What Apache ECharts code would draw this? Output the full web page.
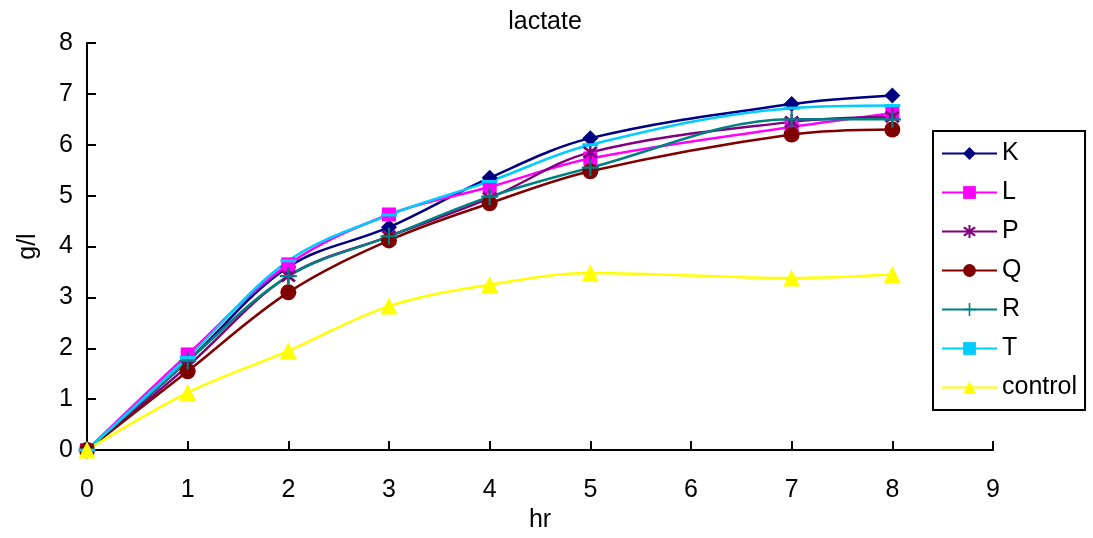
<!DOCTYPE html>
<html>
<head>
<meta charset="utf-8">
<style>
  html, body { margin: 0; padding: 0; background: #fff; }
  #chart { width: 1093px; height: 538px; }
</style>
<script src="https://cdn.jsdelivr.net/npm/echarts@6/dist/echarts.min.js"></script>
</head>
<body>
<div id="chart"></div>
<script>
// Sampling times (hr) and lactate concentration (g/l) per culture
const hours = [0, 1, 2, 3, 4, 5, 7, 8];
const xTicks = [0, 1, 2, 3, 4, 5, 6, 7, 8, 9];
const yTicks = [0, 1, 2, 3, 4, 5, 6, 7, 8];

const K = [0, 1.75, 3.60, 4.38, 5.35, 6.13, 6.80, 6.97];
const L = [0, 1.88, 3.65, 4.63, 5.17, 5.73, 6.35, 6.62];
const P = [0, 1.65, 3.42, 4.20, 4.95, 5.85, 6.45, 6.55];
const Q = [0, 1.55, 3.10, 4.12, 4.85, 5.48, 6.20, 6.30];
const R = [0, 1.75, 3.42, 4.20, 4.98, 5.55, 6.50, 6.50];
const T = [0, 1.82, 3.72, 4.62, 5.28, 6.00, 6.72, 6.77];
const control = [0, 1.13, 1.95, 2.83, 3.25, 3.48, 3.38, 3.45];

const FONT = '"Liberation Sans", Arial, sans-serif';

// Marker shapes drawn as filled outlines
const asterisk = 'path://M8.5,0H11.5V20H8.5Z M0.5,4.5L3,2L19.5,15.5L17,18Z M17,2L19.5,4.5L3,18L0.5,15.5Z';
const plus = 'path://M8.75,0H11.25V20H8.75Z M0,8.75H20V11.25H0Z';
const dash = 'path://M0,0H16V7H0Z';

function pairs(ys) { return hours.map((h, i) => [h, ys[i]]); }

function series(name, ys, color, symbol, size) {
  return {
    name: name,
    type: 'line',
    data: pairs(ys),
    smooth: 0.35,
    symbol: symbol,
    symbolSize: size,
    symbolKeepAspect: true,
    showSymbol: true,
    lineStyle: { color: color, width: 2.5 },
    itemStyle: { color: color, borderWidth: 0 },
    emphasis: { disabled: true },
    animation: false
  };
}

const chart = echarts.init(document.getElementById('chart'), null, { renderer: 'canvas' });
chart.setOption({
  backgroundColor: '#ffffff',
  animation: false,
  title: {
    text: 'lactate',
    left: 540,
    top: 5,
    textAlign: 'center',
    textStyle: { fontFamily: FONT, fontSize: 25, fontWeight: 'normal', color: '#000' }
  },
  grid: { left: 87, right: 100, top: 43, bottom: 84 },
  xAxis: {
    type: 'value',
    min: xTicks[0],
    max: xTicks[xTicks.length - 1],
    interval: 1,
    name: 'hr',
    nameLocation: 'middle',
    nameGap: 55,
    nameTextStyle: { fontFamily: FONT, fontSize: 25, color: '#000' },
    axisLine: { onZero: false, lineStyle: { color: '#000', width: 2 } },
    axisTick: { inside: true, length: 9, lineStyle: { color: '#000', width: 2 } },
    axisLabel: { margin: 28, fontFamily: FONT, fontSize: 25, color: '#000' },
    splitLine: { show: false }
  },
  yAxis: {
    type: 'value',
    min: yTicks[0],
    max: yTicks[yTicks.length - 1],
    interval: 1,
    name: 'g/l',
    nameLocation: 'middle',
    nameGap: 46,
    nameTextStyle: { fontFamily: FONT, fontSize: 25, color: '#000' },
    axisLine: { show: true, onZero: false, lineStyle: { color: '#000', width: 2 } },
    axisTick: { show: true, inside: true, length: 9, lineStyle: { color: '#000', width: 2 } },
    axisLabel: { margin: 14, fontFamily: FONT, fontSize: 25, color: '#000' },
    splitLine: { show: false }
  },
  legend: {
    orient: 'vertical',
    left: 933,
    top: 131,
    padding: [10, 8, 10, 8],
    itemWidth: 55,
    itemHeight: 16,
    itemGap: 14,
    borderColor: '#000',
    borderWidth: 2,
    backgroundColor: '#fff',
    textStyle: { fontFamily: FONT, fontSize: 25, color: '#000' },
    data: ['K', 'L', 'P', 'Q', 'R', 'T', 'control']
  },
  series: [
    series('K', K, '#000080', 'diamond', 16),
    series('L', L, '#FF00FF', 'rect', 14),
    series('P', P, '#800080', asterisk, 16),
    series('Q', Q, '#800000', 'circle', 16),
    series('R', R, '#008080', plus, 17),
    series('T', T, '#00CCFF', dash, [16, 7]),
    series('control', control, '#FFFF00', 'triangle', 17)
  ]
});
</script>
</body>
</html>
